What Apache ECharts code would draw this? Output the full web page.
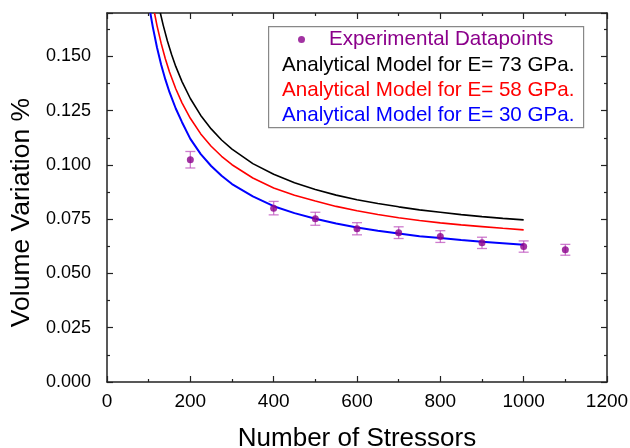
<!DOCTYPE html>
<html>
<head>
<meta charset="utf-8">
<script src="https://cdn.jsdelivr.net/npm/echarts@6/dist/echarts.min.js"></script>
<style>
  html, body { margin: 0; padding: 0; background: #fff; }
  #chart { width: 630px; height: 448px; }
</style>
</head>
<body>
<div id="chart"></div>
<script>
// experimental points (x = number of stressors)
var expX = [200, 400, 500, 600, 700, 800, 900, 1000, 1100];
var expY = [0.1024, 0.0801, 0.0752, 0.0706, 0.0688, 0.0670, 0.0641, 0.0624, 0.0609];
var expErr = [0.0038, 0.0031, 0.0030, 0.0028, 0.0027, 0.0027, 0.0026, 0.0026, 0.0025];

// analytical model curves
var curveX73 = [128, 135, 145, 155, 165, 180, 200, 225, 250, 275, 300, 350, 400, 450, 500,
                550, 600, 650, 700, 750, 800, 850, 900, 950, 1000];
var curveY73 = [0.1700, 0.1643, 0.1571, 0.1509, 0.1454, 0.1384, 0.1306, 0.1228, 0.1166, 0.1115,
                0.1073, 0.1006, 0.0957, 0.0918, 0.0887, 0.0861, 0.0840, 0.0822, 0.0807, 0.0793,
                0.0782, 0.0771, 0.0762, 0.0754, 0.0747];
var curveX58 = [114, 120, 130, 140, 150, 165, 180, 200, 225, 250, 275, 300, 350, 400, 450, 500,
                550, 600, 650, 700, 750, 800, 850, 900, 950, 1000];
var curveY58 = [0.1700, 0.1642, 0.1560, 0.1489, 0.1428, 0.1351, 0.1286, 0.1215, 0.1143, 0.1086,
                0.1040, 0.1001, 0.0940, 0.0894, 0.0860, 0.0834, 0.0809, 0.0789, 0.0772, 0.0757,
                0.0744, 0.0733, 0.0724, 0.0716, 0.0708, 0.0701];
var curveX30 = [104, 110, 120, 130, 140, 150, 165, 180, 200, 225, 250, 275, 300, 350, 400, 450,
                500, 550, 600, 650, 700, 750, 800, 850, 900, 950, 1000];
var curveY30 = [0.1700, 0.1635, 0.1541, 0.1462, 0.1394, 0.1335, 0.1260, 0.1197, 0.1120, 0.1050,
                0.0995, 0.0950, 0.0912, 0.0855, 0.0810, 0.0778, 0.0752, 0.0730, 0.0712, 0.0697,
                0.0684, 0.0672, 0.0663, 0.0654, 0.0646, 0.0639, 0.0632];

var xTicks = [0, 1200, 200];      // min, max, interval
var yTicks = [0, 0.17, 0.025];

var names = ['Experimental Datapoints', 'Analytical Model for E= 73 GPa.',
             'Analytical Model for E= 58 GPa.', 'Analytical Model for E= 30 GPa.'];

var FONT = 'Liberation Sans';

function zip(a, b) {
    var out = [];
    for (var i = 0; i < a.length; i++) out.push([a[i], b[i]]);
    return out;
}

var errData = [];
for (var i = 0; i < expX.length; i++) {
    errData.push([expX[i], expY[i] - expErr[i], expY[i] + expErr[i]]);
}

function axisX(show, pos) {
    return {
        type: 'value', position: pos, min: xTicks[0], max: xTicks[1], interval: xTicks[2],
        name: show ? 'Number of Stressors' : '', nameLocation: 'middle', nameGap: 44,
        nameTextStyle: { fontFamily: FONT, fontSize: 26, color: '#000' },
        axisLine: { show: true, onZero: false, lineStyle: { color: '#222', width: 1.5 } },
        axisTick: { show: true, inside: true, length: 6, lineStyle: { color: '#222', width: 1.2 } },
        minorTick: { show: true, splitNumber: 2, length: 3, lineStyle: { color: '#222', width: 1.2 } },
        axisLabel: {
            show: show, fontFamily: FONT, fontSize: 19, color: '#000', margin: 10,
            formatter: function (v) { return String(v); }
        },
        splitLine: { show: false }
    };
}

function axisY(show, pos) {
    return {
        type: 'value', position: pos, min: yTicks[0], max: yTicks[1], interval: yTicks[2],
        name: show ? 'Volume Variation %' : '', nameLocation: 'middle', nameGap: 70,
        nameTextStyle: { fontFamily: FONT, fontSize: 26.5, color: '#000', padding: [0, 30, 0, 0] },
        axisLine: { show: true, onZero: false, lineStyle: { color: '#222', width: 1.5 } },
        axisTick: { show: true, inside: true, length: 6, lineStyle: { color: '#222', width: 1.2 } },
        minorTick: { show: true, splitNumber: 2, length: 3, lineStyle: { color: '#222', width: 1.2 } },
        axisLabel: {
            show: show, showMaxLabel: false, fontFamily: FONT, fontSize: 18, color: '#000', margin: 16,
            formatter: function (v) { return v.toFixed(3); }
        },
        splitLine: { show: false }
    };
}

function lineSeries(name, x, y, color, w) {
    return {
        name: name, type: 'line', data: zip(x, y), symbol: 'none',
        smooth: false, clip: true,
        lineStyle: { color: color, width: w }, itemStyle: { color: color }, z: 3
    };
}

function legendItem(name, color, top, left, icon) {
    return {
        data: [{ name: name, icon: icon }], selectedMode: false, orient: 'vertical',
        left: left, top: top, padding: 0,
        itemWidth: icon === 'none' ? 0 : 7, itemHeight: 7,
        itemStyle: { color: color },
        textStyle: { fontFamily: FONT, fontSize: 20.6, color: color,
                     padding: icon === 'none' ? 0 : [0, 0, 0, 19] }
    };
}

var option = {
    animation: false,
    backgroundColor: '#fff',
    grid: { left: 107, right: 23, top: 13, bottom: 66, outerBoundsMode: 'none', containLabel: false },
    xAxis: [axisX(true, 'bottom'), axisX(false, 'top')],
    yAxis: [axisY(true, 'left'), axisY(false, 'right')],
    legend: [
        legendItem(names[0], '#8b008b', 29, 298, 'circle'),
        legendItem(names[1], '#000000', 55, 277, 'none'),
        legendItem(names[2], '#ff0000', 80, 277, 'none'),
        legendItem(names[3], '#0000ff', 105, 277, 'none')
    ],
    graphic: [{
        type: 'rect', left: 268, top: 26, z: 0,
        shape: { width: 315, height: 101 },
        style: { fill: '#fff', stroke: '#888', lineWidth: 1.2 }
    }],
    series: [
        lineSeries(names[1], curveX73, curveY73, '#000000', 1.6),
        lineSeries(names[2], curveX58, curveY58, '#ff0000', 1.6),
        lineSeries(names[3], curveX30, curveY30, '#0000ff', 2),
        {
            name: 'err', type: 'custom', data: errData, z: 4,
            renderItem: function (params, api) {
                var lo = api.coord([api.value(0), api.value(1)]);
                var hi = api.coord([api.value(0), api.value(2)]);
                var cap = 5;
                var st = { stroke: 'rgba(190,80,190,0.75)', lineWidth: 1.3 };
                return {
                    type: 'group',
                    children: [
                        { type: 'line', shape: { x1: lo[0], y1: lo[1], x2: hi[0], y2: hi[1] }, style: st },
                        { type: 'line', shape: { x1: lo[0] - cap, y1: lo[1], x2: lo[0] + cap, y2: lo[1] }, style: st },
                        { type: 'line', shape: { x1: hi[0] - cap, y1: hi[1], x2: hi[0] + cap, y2: hi[1] }, style: st }
                    ]
                };
            }
        },
        {
            name: names[0], type: 'scatter', data: zip(expX, expY), z: 5,
            symbol: 'circle', symbolSize: 7, itemStyle: { color: '#8b008b' }
        }
    ]
};

var myChart = echarts.init(document.getElementById('chart'));
myChart.setOption(option);
</script>
</body>
</html>
